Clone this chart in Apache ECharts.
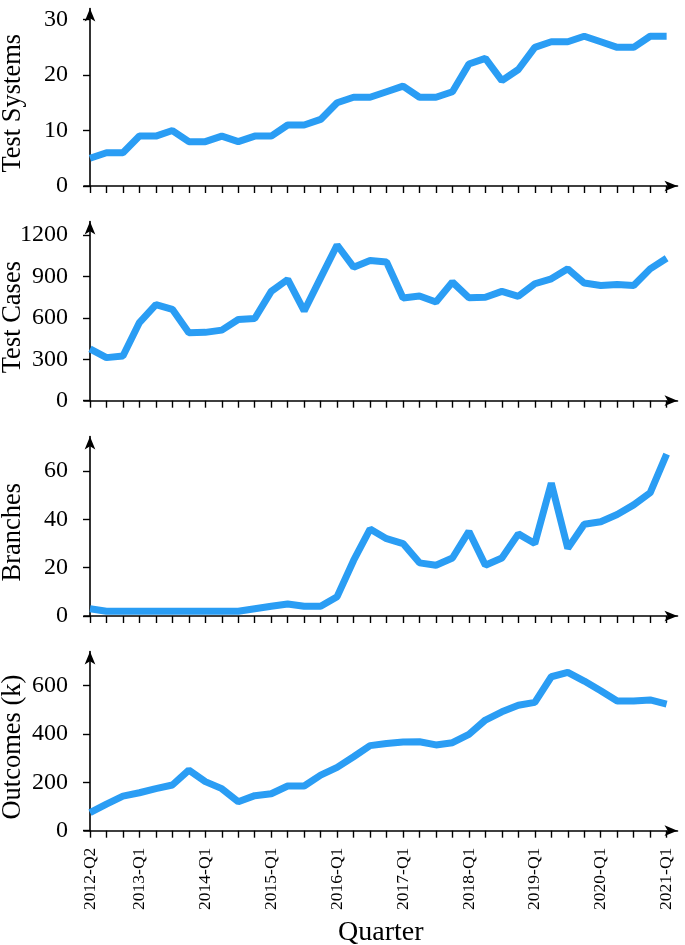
<!DOCTYPE html>
<html>
<head>
<meta charset="utf-8">
<script src="https://cdn.jsdelivr.net/npm/echarts@6/dist/echarts.min.js"></script>
<style>
html,body{margin:0;padding:0;background:#fff;}
#chart{width:685px;height:945px;}
</style>
</head>
<body>
<div id="chart"></div>
<script>
const quarters = [
  '2012-Q2','2012-Q3','2012-Q4',
  '2013-Q1','2013-Q2','2013-Q3','2013-Q4',
  '2014-Q1','2014-Q2','2014-Q3','2014-Q4',
  '2015-Q1','2015-Q2','2015-Q3','2015-Q4',
  '2016-Q1','2016-Q2','2016-Q3','2016-Q4',
  '2017-Q1','2017-Q2','2017-Q3','2017-Q4',
  '2018-Q1','2018-Q2','2018-Q3','2018-Q4',
  '2019-Q1','2019-Q2','2019-Q3','2019-Q4',
  '2020-Q1','2020-Q2','2020-Q3','2020-Q4',
  '2021-Q1'
];
const labelQuarters = ['2012-Q2','2013-Q1','2014-Q1','2015-Q1','2016-Q1','2017-Q1','2018-Q1','2019-Q1','2020-Q1','2021-Q1'];

const testSystems = [5,6,6,9,9,10,8,8,9,8,9,9,11,11,12,15,16,16,17,18,16,16,17,22,23,19,21,25,26,26,27,26,25,25,27,27];
const testCases = [375,312,324,566,696,662,492,495,511,588,595,792,878,650,890,1128,967,1015,1005,744,758,715,859,746,749,792,756,847,883,955,852,835,842,835,955,1032];
const branches = [3,2,2,2,2,2,2,2,2,2,3,4,5,4,4,8,23,36,32,30,22,21,24,35,21,24,34,30,55,28,38,39,42,46,51,67];
const outcomes = [75,110,143,157,174,189,251,203,174,120,145,153,185,185,230,262,306,352,361,367,368,355,364,399,458,492,519,531,637,655,619,579,537,537,541,524];

const yTicks1 = [0,10,20,30];
const yTicks2 = [0,300,600,900,1200];
const yTicks3 = [0,20,40,60];
const yTicks4 = [0,200,400,600];

const panels = [
  {name:'Test Systems', data:testSystems, ticks:yTicks1, max:32.0, top:8.5, height:177.5},
  {name:'Test Cases', data:testCases, ticks:yTicks2, max:1298, top:221.5, height:179.2},
  {name:'Branches', data:branches, ticks:yTicks3, max:74.3, top:436.5, height:179.5},
  {name:'Outcomes (k)', data:outcomes, ticks:yTicks4, max:741.5, top:651.5, height:179.2}
];

const FONT = 'Liberation Serif';
const tickIdx = quarters.map((q,i)=>i);
const labelIdx = labelQuarters.map(q=>quarters.indexOf(q));

const grids = [], xAxes = [], yAxes = [], series = [];
panels.forEach((p, k) => {
  const last = k === panels.length - 1;
  grids.push({left:84, width:593.5, top:p.top, height:p.height, containLabel:false, outerBoundsMode:'none'});
  xAxes.push({
    type:'value', gridIndex:k, min:-0.364, max:35.66,
    splitLine:{show:false},
    axisLine:{show:true, symbol:['none','arrow'], symbolSize:[8,13], lineStyle:{color:'#000', width:1.6}},
    axisTick:{show:true, length:7, customValues:tickIdx, lineStyle:{color:'#000', width:1.4}},
    axisLabel:{show:last, customValues:labelIdx, rotate:90, margin:17,
      formatter:(v)=>quarters[Math.round(v)], color:'#000', fontFamily:FONT, fontSize:17.5},
    name: last ? 'Quarter' : '', nameLocation:'middle', nameGap:88, nameMoveOverlap:false,
    nameTextStyle:{color:'#000', fontFamily:FONT, fontSize:28}
  });
  yAxes.push({
    type:'value', gridIndex:k, min:0, max:p.max,
    splitLine:{show:false},
    axisLine:{show:true, symbol:['none','arrow'], symbolSize:[8,13], lineStyle:{color:'#000', width:1.6}},
    axisTick:{show:true, length:7, customValues:p.ticks, lineStyle:{color:'#000', width:1.4}},
    axisLabel:{customValues:p.ticks, margin:16, color:'#000', fontFamily:FONT, fontSize:24,
      formatter:(v)=>String(v)},
    name:p.name, nameLocation:'middle', nameGap:57, nameMoveOverlap:false,
    nameTextStyle:{color:'#000', fontFamily:FONT, fontSize:26.5, padding:[0,12,0,0]}
  });
  series.push({
    type:'line', xAxisIndex:k, yAxisIndex:k,
    data:p.data.map((v,i)=>[i,v]),
    showSymbol:false, symbol:'none',
    lineStyle:{color:'#2a9df4', width:7},
    itemStyle:{color:'#2a9df4'}
  });
});

const chart = echarts.init(document.getElementById('chart'), null, {renderer:'canvas'});
chart.setOption({animation:false, backgroundColor:'#fff', grid:grids, xAxis:xAxes, yAxis:yAxes, series:series});
</script>
</body>
</html>
